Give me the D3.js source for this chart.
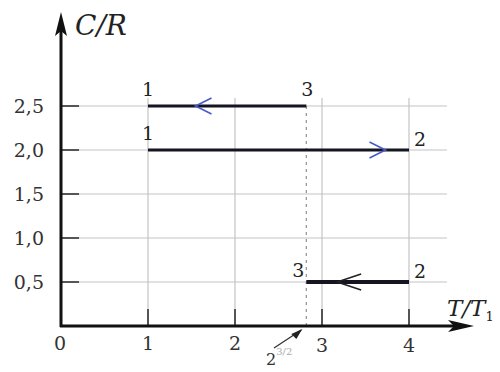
<!DOCTYPE html>
<html>
<head>
<meta charset="utf-8">
<script src="https://cdn.jsdelivr.net/npm/d3@7"></script>
<style>
  body { margin: 0; background: #fff; }
</style>
</head>
<body>
<svg id="chart" width="500" height="372"></svg>
<script>
// ticks
var xTicks = [1, 2, 3, 4];
var yTicks = [0.5, 1.0, 1.5, 2.0, 2.5];
var yTickLabels = ["0,5", "1,0", "1,5", "2,0", "2,5"];

// the cycle 1 -> 2 -> 3 -> 1
var tStar = 2.82;
var procFromT = [1, 4, tStar];
var procToT = [4, tStar, 1];
var procC = [2.0, 0.5, 2.5];
var procArrowAt = [0.91, 0.70, 0.70];

// state labels
var stateNames = ["1", "1", "3", "2", "3", "2"];
var stateT = [1, 1, tStar, 4, tStar, 4];
var stateC = [2.5, 2.0, 2.5, 2.0, 0.5, 0.5];

var svg = d3.select("#chart");
var serif = "'DejaVu Serif', serif";

var x = d3.scaleLinear().domain([0, 4]).range([61, 409]);
var y = d3.scaleLinear().domain([0, 2.5]).range([326, 106]);

// grid
svg.append("g")
  .selectAll("line")
  .data(yTicks)
  .enter()
  .append("line")
  .attr("x1", x(0)).attr("x2", 447)
  .attr("y1", d => y(d)).attr("y2", d => y(d))
  .attr("stroke", "#c4c4c4").attr("stroke-width", 1.2);

svg.append("g")
  .selectAll("line")
  .data(xTicks)
  .enter()
  .append("line")
  .attr("x1", d => x(d)).attr("x2", d => x(d))
  .attr("y1", y(2.5) - 8).attr("y2", y(0))
  .attr("stroke", "#c4c4c4").attr("stroke-width", 1.2);

// short ticks on the axes
svg.append("g")
  .selectAll("line")
  .data(yTicks)
  .enter()
  .append("line")
  .attr("x1", x(0)).attr("x2", x(0) + 18)
  .attr("y1", d => y(d)).attr("y2", d => y(d))
  .attr("stroke", "#333").attr("stroke-width", 1.6);

svg.append("g")
  .selectAll("line")
  .data(xTicks)
  .enter()
  .append("line")
  .attr("x1", d => x(d)).attr("x2", d => x(d))
  .attr("y1", y(0)).attr("y2", y(0) - 17)
  .attr("stroke", "#333").attr("stroke-width", 1.6);

// dotted line at T3
svg.append("line")
  .attr("x1", x(tStar)).attr("x2", x(tStar))
  .attr("y1", y(2.5)).attr("y2", y(0))
  .attr("stroke", "#999").attr("stroke-width", 1.3)
  .attr("stroke-dasharray", "3,4");

// axes with arrow heads
svg.append("line")
  .attr("x1", x(0)).attr("x2", x(0))
  .attr("y1", y(0) + 1).attr("y2", 30)
  .attr("stroke", "#111").attr("stroke-width", 3);
svg.append("path")
  .attr("d", `M${x(0)},12 L${x(0) - 6},36 L${x(0)},31 L${x(0) + 6},36 Z`)
  .attr("fill", "#111");

svg.append("line")
  .attr("x1", x(0) - 1).attr("x2", 458)
  .attr("y1", y(0)).attr("y2", y(0))
  .attr("stroke", "#111").attr("stroke-width", 3);
svg.append("path")
  .attr("d", `M474,${y(0)} L448,${y(0) - 6} L454,${y(0)} L448,${y(0) + 6} Z`)
  .attr("fill", "#111");

// axis titles
svg.append("text")
  .attr("x", 75).attr("y", 35)
  .style("font-family", serif)
  .style("font-size", "28px").style("font-style", "italic")
  .attr("fill", "#222")
  .text("C/R");

var tt = svg.append("text")
  .attr("x", 447).attr("y", 316)
  .style("font-family", serif)
  .style("font-size", "23px").style("font-style", "italic")
  .attr("fill", "#222");
tt.append("tspan").text("T/T");
tt.append("tspan").attr("dy", 5).style("font-size", "13px").style("font-style", "normal").text("1");

// tick labels
svg.append("g")
  .selectAll("text")
  .data(yTicks)
  .enter()
  .append("text")
  .attr("x", 44).attr("y", d => y(d) + 7)
  .attr("text-anchor", "end")
  .style("font-family", serif)
  .style("font-size", "19px")
  .attr("fill", "#333")
  .text((d, i) => yTickLabels[i]);

svg.append("g")
  .selectAll("text")
  .data([0].concat(xTicks))
  .enter()
  .append("text")
  .attr("x", d => x(d) + (d === 0 ? -1 : 0)).attr("y", d => d >= 3 ? 352 : 350)
  .attr("text-anchor", "middle")
  .style("font-family", serif)
  .style("font-size", "19px")
  .attr("fill", "#333")
  .text(d => d);

// process lines
svg.append("g")
  .selectAll("line")
  .data(procC)
  .enter()
  .append("line")
  .attr("x1", (d, i) => x(procFromT[i])).attr("x2", (d, i) => x(procToT[i]))
  .attr("y1", d => y(d)).attr("y2", d => y(d))
  .attr("stroke", "#151522")
  .attr("stroke-width", d => d < 1 ? 4 : 3);

// direction arrows (open chevrons)
svg.append("g")
  .selectAll("path")
  .data(procC)
  .enter()
  .append("path")
  .attr("d", function (d, i) {
    var t = procFromT[i] + (procToT[i] - procFromT[i]) * procArrowAt[i];
    var px = x(t), py = y(d);
    var dir = procToT[i] > procFromT[i] ? -1 : 1;
    var len = d < 1 ? 24 : 16;
    return `M${px + dir * len},${py - 8} L${px},${py} L${px + dir * len},${py + 8}`;
  })
  .attr("fill", "none")
  .attr("stroke", d => d < 1 ? "#222" : "#4a58c8")
  .attr("stroke-width", 1.6);

// state labels
svg.append("g")
  .selectAll("text")
  .data(stateNames)
  .enter()
  .append("text")
  .attr("x", (d, i) => x(stateT[i]) + (stateT[i] === 4 ? 11 : (stateC[i] === 0.5 ? -8 : (stateT[i] === 1 ? 0 : 1))))
  .attr("y", (d, i) => y(stateC[i]) - (stateT[i] === 4 ? 4 : (stateC[i] === 0.5 ? 5 : 10)))
  .attr("text-anchor", "middle")
  .style("font-family", serif)
  .style("font-size", "19px")
  .attr("fill", "#222")
  .text(d => d);

// pointer to T3 on the axis
svg.append("line")
  .attr("x1", 274).attr("y1", 348)
  .attr("x2", x(tStar) - 5).attr("y2", y(0) + 4)
  .attr("stroke", "#333").attr("stroke-width", 1.3);
svg.append("path")
  .attr("d", `M${x(tStar) - 4},${y(0) + 3} L${x(tStar) - 15},${y(0) + 8} L${x(tStar) - 10},${y(0) + 13} Z`)
  .attr("fill", "#222");

var lab = svg.append("text")
  .attr("x", 266).attr("y", 365)
  .style("font-family", serif)
  .style("font-size", "16px")
  .attr("fill", "#333");
lab.append("tspan").text("2");
lab.append("tspan").attr("dy", -10).style("font-size", "10px").attr("fill", "#aaa").text("3/2");
</script>
</body>
</html>
